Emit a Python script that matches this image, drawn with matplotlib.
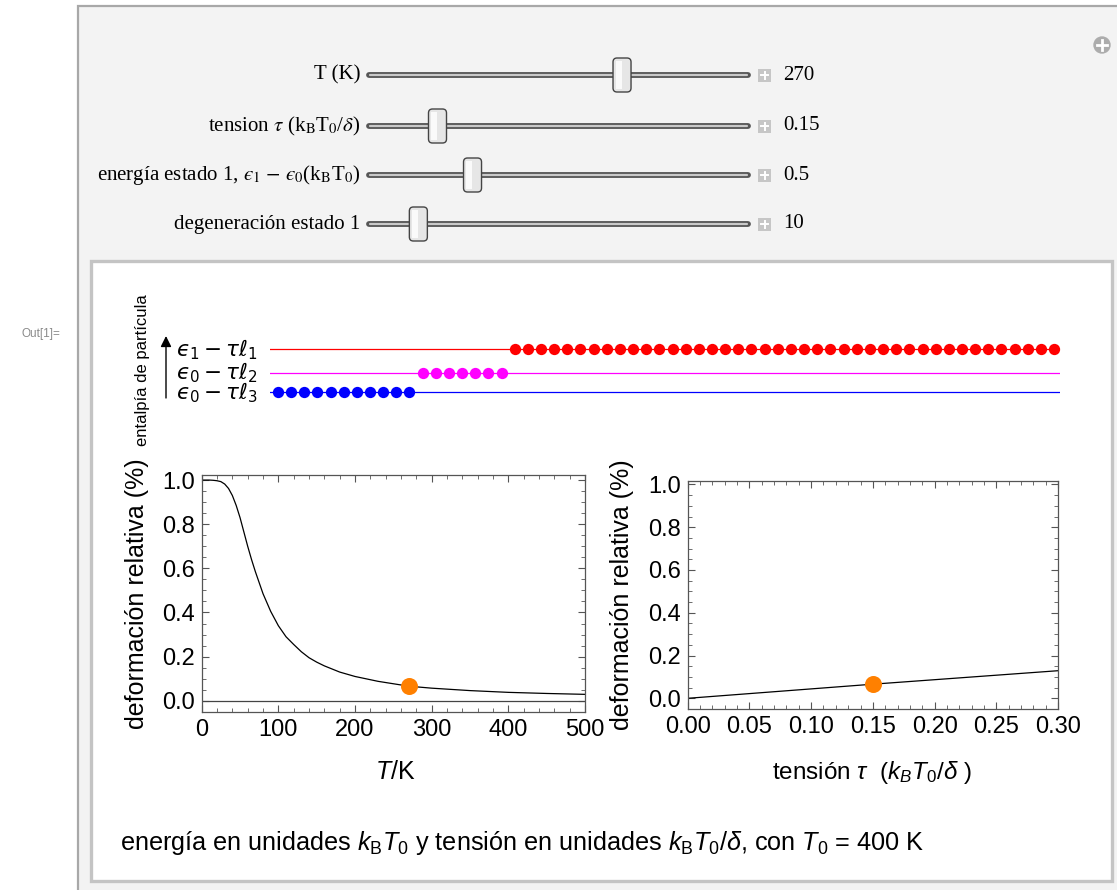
import numpy as np
import matplotlib
matplotlib.use('Agg')
import matplotlib.pyplot as plt
from matplotlib.patches import Rectangle, FancyBboxPatch, Circle
from matplotlib.ticker import MultipleLocator, FormatStrFormatter
from matplotlib.transforms import blended_transform_factory

plt.rcParams['font.family'] = ['Liberation Sans', 'DejaVu Sans']
plt.rcParams['mathtext.fontset'] = 'custom'
plt.rcParams['mathtext.rm'] = 'Liberation Sans'
plt.rcParams['mathtext.it'] = 'Liberation Sans:italic'
plt.rcParams['mathtext.bf'] = 'Liberation Sans:bold'

# ---------------- datos ----------------
# deformacion relativa frente a T (tau = 0.15)
T_curva = [0, 10, 15, 20, 25, 30, 35, 40, 45, 50, 55, 60, 65, 70, 75, 80, 85,
           90, 100, 110, 120, 130, 140, 150, 160, 180, 200, 230, 270, 300,
           350, 400, 450, 500]
def_T = [1.0, 1.0, 0.999, 0.997, 0.993, 0.982, 0.962, 0.93, 0.885, 0.83,
         0.765, 0.70, 0.64, 0.585, 0.535, 0.485, 0.445, 0.405, 0.34, 0.29,
         0.255, 0.222, 0.195, 0.175, 0.158, 0.13, 0.11, 0.088, 0.066, 0.057,
         0.046, 0.038, 0.033, 0.029]
# deformacion relativa frente a la tension (T = 270 K)
tau_curva = [0.0, 0.05, 0.10, 0.15, 0.20, 0.25, 0.30]
def_tau = [0.0, 0.022, 0.044, 0.066, 0.087, 0.108, 0.129]

T_actual = 270
tau_actual = 0.15
def_actual = 0.066

# controles (etiqueta, valor mostrado, rango)
etiquetas_ctrl = ['T (K)',
                  r'tension $\tau$ (k$_\mathrm{B}$T$_0$/$\delta$)',
                  'energía estado 1, $\u03f5_1$ $-$ $\u03f5_0$(k$_\\mathrm{B}$T$_0$)',
                  'degeneración estado 1']
valores_ctrl = [270, 0.15, 0.5, 10]
textos_ctrl = ['270', '0.15', '0.5', '10']
rangos_ctrl = [(0, 400), (0, 0.9), (0, 1.9), (1, 80)]

# diagrama de niveles: particulas en cada nivel (de abajo a arriba)
etiquetas_niv = ['$\u03f5_0 - \\tau\\ell_3$', '$\u03f5_0 - \\tau\\ell_2$',
                 '$\u03f5_1 - \\tau\\ell_1$']
niveles = [0.0, 0.1, 0.22]
particulas = [11, 7, 42]
colores_niv = ['#0000ff', '#ff00ff', '#ff0000']

W, H = 1117, 890
fig = plt.figure(figsize=(W / 100, H / 100), dpi=100)
fig.patch.set_facecolor('white')


def caja(x0, y0, x1, y1):
    return fig.add_axes([x0 / W, 1 - y1 / H, (x1 - x0) / W, (y1 - y0) / H])


# fondo en coordenadas de pixel
bg = fig.add_axes([0, 0, 1, 1], zorder=-1)
bg.set_xlim(0, W)
bg.set_ylim(H, 0)
bg.axis('off')
bg.add_patch(Rectangle((78, 6), 1100, 1000, fc='#f3f3f3', ec='#a8a8a8', lw=1.6))
bg.add_patch(Rectangle((91, 261), 1021, 620, fc='white', ec='#c4c4c4', lw=2.4))
bg.add_patch(Circle((1102, 45), 8, color='#acacac'))
bg.plot([1097, 1107], [45, 45], color='white', lw=2)
bg.plot([1102, 1102], [40, 50], color='white', lw=2)
bg.text(21, 334, 'Out[1]=', fontsize=8.5, color='#8a8a8a', va='center', ha='left')

# controles deslizantes
filas = [75, 126, 175, 224]
x_ini, x_fin = 369, 748
for et, v, txt, (lo, hi), y in zip(etiquetas_ctrl, valores_ctrl, textos_ctrl,
                                   rangos_ctrl, filas):
    bg.text(360, y, et, ha='right', va='center', fontsize=15,
            family='Liberation Serif', math_fontfamily='stix')
    bg.plot([x_ini, x_fin], [y, y], color='#555555', lw=4.2, solid_capstyle='round')
    bg.plot([x_ini + 1, x_fin - 1], [y, y], color='#c9c9c9', lw=1.6,
            solid_capstyle='round')
    xp = x_ini + 8 + (v - lo) / (hi - lo) * (x_fin - x_ini - 16)
    bg.add_patch(FancyBboxPatch((xp - 9, y - 17), 18, 34,
                                boxstyle='round,pad=0,rounding_size=4',
                                fc='#e6e6e6', ec='#444444', lw=1.0, zorder=3))
    bg.add_patch(Rectangle((xp - 6.5, y - 14), 6, 28, fc='#fafafa', ec='none', zorder=4))
    bg.add_patch(Rectangle((758, y - 6.5), 13, 13, fc='#c6c6c6', ec='none'))
    bg.plot([761, 768], [y, y], color='white', lw=1.4)
    bg.plot([764.5, 764.5], [y - 3.5, y + 3.5], color='white', lw=1.4)
    bg.text(783, y, txt, ha='left', va='center', fontsize=15,
            family='Liberation Serif')

# diagrama de niveles de entalpia
axd = caja(270, 330, 1060, 410)
axd.set_xlim(-0.6, 59.45)
axd.set_ylim(-0.09, 0.318)
axd.axis('off')
inicio = 0
trans = blended_transform_factory(axd.transAxes, axd.transData)
for nv, n, col, et in zip(niveles, particulas, colores_niv, etiquetas_niv):
    axd.axhline(nv, color=col, lw=0.9)
    xs = np.arange(inicio, inicio + n)
    axd.scatter(xs, np.full(n, nv), s=66, color=col, zorder=3, linewidths=0)
    inicio += n
    axd.text(-0.015, nv, et, transform=trans, ha='right', va='center',
             fontsize=15.5, math_fontfamily='dejavusans', clip_on=False)

bg.annotate('', xy=(166, 336), xytext=(166, 398),
            arrowprops=dict(arrowstyle='-|>', color='black', lw=1.0,
                            mutation_scale=16, shrinkA=0, shrinkB=0))
bg.text(143, 370, 'entalpía de partícula', rotation=90, ha='center',
        va='center', fontsize=12)


def estilo(ax):
    ax.tick_params(which='both', direction='in', top=True, right=True,
                   color='#555555', labelsize=17, labelcolor='black')
    ax.tick_params(which='major', length=5, width=0.8, pad=5)
    ax.tick_params(which='minor', length=2.8, width=0.6)
    for s in ax.spines.values():
        s.set_color('#555555')
        s.set_linewidth(0.9)
    ax.yaxis.set_major_locator(MultipleLocator(0.2))
    ax.yaxis.set_minor_locator(MultipleLocator(0.05))
    ax.yaxis.set_major_formatter(FormatStrFormatter('%.1f'))


# deformacion frente a T
ax1 = caja(201.7, 475, 585, 712)
ax1.plot(T_curva, def_T, color='black', lw=0.9)
ax1.axhline(0, color='#444444', lw=0.9)
ax1.scatter([T_actual], [def_actual], s=150, color='#ff8000', zorder=4, linewidths=0)
ax1.set_xlim(0, 500)
ax1.set_ylim(-0.051, 1.023)
ax1.xaxis.set_major_locator(MultipleLocator(100))
ax1.xaxis.set_minor_locator(MultipleLocator(20))
estilo(ax1)
ax1.text(-0.17, 0.5, 'deformación relativa (%)', transform=ax1.transAxes,
         rotation=90, ha='center', va='center', fontsize=18)
ax1.text(0.504, -0.255, r'$T$/K', transform=ax1.transAxes, ha='center',
         va='center', fontsize=18)

# deformacion frente a la tension
ax2 = caja(687.7, 481, 1058, 709)
ax2.plot(tau_curva, def_tau, color='black', lw=0.9)
ax2.scatter([tau_actual], [def_actual], s=150, color='#ff8000', zorder=4, linewidths=0)
ax2.set_xlim(0, 0.3)
ax2.set_ylim(-0.05, 1.016)
ax2.xaxis.set_major_locator(MultipleLocator(0.05))
ax2.xaxis.set_minor_locator(MultipleLocator(0.01))
ax2.xaxis.set_major_formatter(FormatStrFormatter('%.2f'))
estilo(ax2)
ax2.text(-0.177, 0.5, 'deformación relativa (%)', transform=ax2.transAxes,
         rotation=90, ha='center', va='center', fontsize=18)
ax2.text(0.497, -0.28, r'tensión $\tau$  ($k_B T_0/\delta$ )', transform=ax2.transAxes,
         ha='center', va='center', fontsize=17.5)

bg.text(120, 843, r'energía en unidades $k_\mathrm{B}T_0$ y tensión en unidades '
        r'$k_\mathrm{B}T_0/\delta$, con $T_0$ = 400 K', ha='left', va='center',
        fontsize=18.2)

fig.savefig('out.png', dpi=100)
